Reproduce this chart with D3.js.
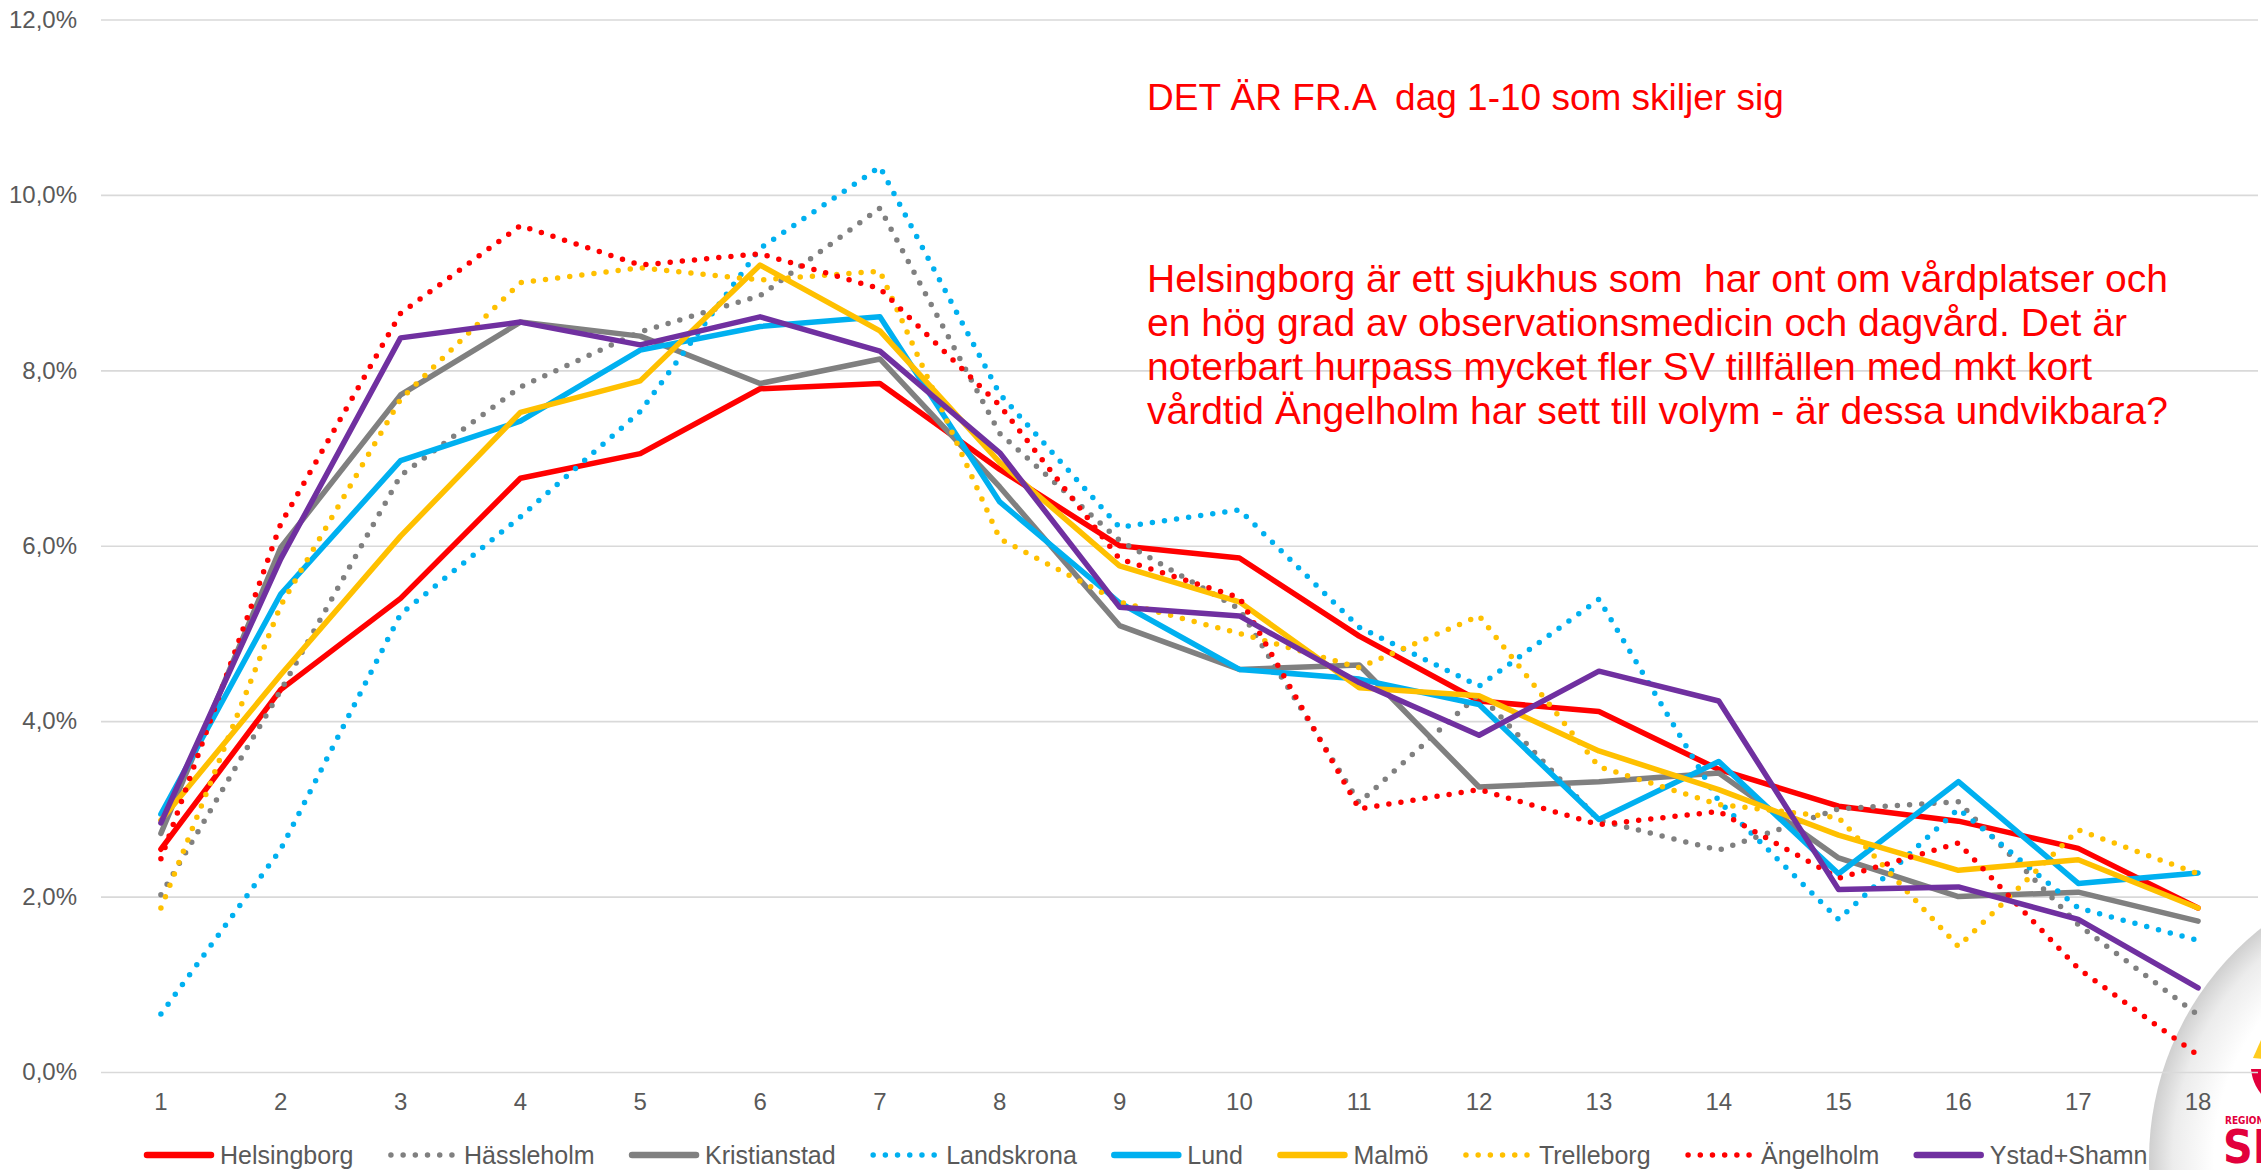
<!DOCTYPE html>
<html>
<head>
<meta charset="utf-8">
<script src="https://cdn.jsdelivr.net/npm/d3@7"></script>
<style>
  html, body { margin: 0; padding: 0; background: #fff; }
  svg { display: block; }
  text { font-family: "Liberation Sans", Arial, sans-serif; }
</style>
</head>
<body>
<svg id="chart" width="2261" height="1170"></svg>
<script>
// ---------- data ----------
const days = [1,2,3,4,5,6,7,8,9,10,11,12,13,14,15,16,17,18];
const yTickValues = [0, 2, 4, 6, 8, 10, 12];
const yTickLabels = ["0,0%", "2,0%", "4,0%", "6,0%", "8,0%", "10,0%", "12,0%"];

const seriesNames = ["Helsingborg", "Hässleholm", "Kristianstad", "Landskrona", "Lund", "Malmö", "Trelleborg", "Ängelholm", "Ystad+Shamn"];

const helsingborg = [2.54, 4.36, 5.40, 6.77, 7.05, 7.79, 7.85, 6.87, 6.00, 5.86, 4.97, 4.23, 4.11, 3.45, 3.03, 2.86, 2.55, 1.87];
const hassleholm  = [2.02, 4.35, 6.80, 7.81, 8.44, 8.85, 9.85, 7.28, 6.06, 5.28, 3.07, 4.31, 2.87, 2.53, 3.00, 3.08, 1.68, 0.65];
const kristianstad= [2.72, 5.98, 7.72, 8.55, 8.39, 7.85, 8.13, 6.67, 5.09, 4.59, 4.64, 3.25, 3.31, 3.41, 2.44, 2.00, 2.05, 1.72];
const landskrona  = [0.66, 2.54, 5.22, 6.33, 7.53, 9.39, 10.32, 7.73, 6.21, 6.41, 5.07, 4.40, 5.39, 3.09, 1.74, 3.00, 1.87, 1.50];
const lund        = [2.94, 5.45, 6.97, 7.42, 8.23, 8.50, 8.61, 6.50, 5.35, 4.59, 4.48, 4.19, 2.88, 3.54, 2.26, 3.31, 2.15, 2.27];
const malmo       = [2.87, 4.53, 6.11, 7.52, 7.88, 9.20, 8.45, 6.95, 5.77, 5.36, 4.38, 4.29, 3.66, 3.22, 2.70, 2.30, 2.42, 1.87];
const trelleborg  = [1.87, 5.32, 7.67, 9.00, 9.17, 9.03, 9.13, 6.08, 5.36, 5.00, 4.61, 5.20, 3.48, 3.05, 2.90, 1.43, 2.76, 2.26];
const angelholm   = [2.43, 6.25, 8.65, 9.65, 9.20, 9.33, 8.93, 7.60, 5.85, 5.41, 3.00, 3.22, 2.82, 2.97, 2.21, 2.61, 1.18, 0.19];
const ystad       = [2.84, 5.85, 8.37, 8.55, 8.29, 8.61, 8.22, 7.06, 5.30, 5.20, 4.44, 3.84, 4.57, 4.23, 2.08, 2.11, 1.74, 0.96];

const seriesValues = [helsingborg, hassleholm, kristianstad, landskrona, lund, malmo, trelleborg, angelholm, ystad];
const seriesColors = ["#FF0000", "#808080", "#808080", "#00B0F0", "#00B0F0", "#FFC000", "#FFC000", "#FF0000", "#7030A0"];
const seriesDotted = [false, true, false, true, false, false, true, true, false];

const headline = "DET ÄR FR.A  dag 1-10 som skiljer sig";
const commentLines = [
  "Helsingborg är ett sjukhus som  har ont om vårdplatser och",
  "en hög grad av observationsmedicin och dagvård. Det är",
  "noterbart hurpass mycket fler SV tillfällen med mkt kort",
  "vårdtid Ängelholm har sett till volym - är dessa undvikbara?"
];

// ---------- layout ----------
const W = 2261, H = 1170;
const plotLeft = 101, plotRight = 2258, plotTop = 19.5, plotBottom = 1072;

const svg = d3.select("#chart");
svg.append("rect").attr("width", W).attr("height", H).attr("fill", "#fff");

// Logo background (Region Skåne style badge, bottom-right)
const defs = svg.append("defs");
const rg = defs.append("radialGradient").attr("id", "badge").attr("cx", "50%").attr("cy", "50%").attr("r", "50%");
rg.append("stop").attr("offset", "0%").attr("stop-color", "#ffffff");
rg.append("stop").attr("offset", "78%").attr("stop-color", "#ffffff");
rg.append("stop").attr("offset", "92%").attr("stop-color", "#ececec");
rg.append("stop").attr("offset", "100%").attr("stop-color", "#cfcfcf");
defs.append("clipPath").attr("id", "logoclip").append("rect").attr("x", 2200).attr("y", 1000).attr("width", 61).attr("height", 170);
const logo = svg.append("g");
logo.append("circle").attr("cx", 2445).attr("cy", 1160).attr("r", 296).attr("fill", "url(#badge)");
const mark = logo.append("g").attr("clip-path", "url(#logoclip)");
mark.append("path").attr("d", "M2253,1058 L2261,1040 L2290,1030 L2300,1062 Z").attr("fill", "#FFCC1F");
mark.append("path").attr("d", "M2251,1069 L2300,1069 L2300,1110 A45,45 0 0 1 2251,1069 Z").attr("fill", "#E2003C");
mark.append("text").attr("x", 2225).attr("y", 1124).attr("font-size", 10).attr("font-weight", "bold")
  .attr("fill", "#E2003C").attr("style", "font-family:'Liberation Sans Narrow','DejaVu Sans Condensed',sans-serif").text("REGION");
mark.append("text").attr("x", 2223).attr("y", 1163).attr("font-size", 46).attr("font-weight", "bold")
  .attr("fill", "#E2003C").attr("style", "font-family:'Liberation Sans Narrow','DejaVu Sans Condensed',sans-serif").text("SK");

// ---------- scales ----------
const x = d3.scaleBand().domain(days).range([plotLeft, plotRight]).padding(0);
const cx = d => x(d) + x.bandwidth() / 2;
const y = d3.scaleLinear().domain([0, 12]).range([plotBottom, plotTop]);

// ---------- axes ----------
const yAxis = svg.append("g").attr("transform", `translate(${plotLeft},0)`)
  .call(d3.axisLeft(y).tickValues(yTickValues).tickSize(-(plotRight - plotLeft)).tickPadding(24)
    .tickFormat((d, i) => yTickLabels[i]));
yAxis.select(".domain").remove();
yAxis.selectAll(".tick line").attr("stroke", "#D9D9D9").attr("stroke-width", 1.6);
yAxis.selectAll(".tick text").attr("font-size", 24).attr("fill", "#595959")
  .style("font-family", "'Liberation Sans', Arial, sans-serif");

const xAxis = svg.append("g").attr("transform", `translate(0,${plotBottom})`)
  .call(d3.axisBottom(x).tickSize(0).tickPadding(0));
xAxis.select(".domain").remove();
xAxis.selectAll(".tick text").attr("y", 30).attr("dy", "0.35em").attr("font-size", 24).attr("fill", "#595959")
  .style("font-family", "'Liberation Sans', Arial, sans-serif");

// ---------- lines ----------
const line = d3.line().x((v, i) => cx(days[i])).y(v => y(v));
const linesG = svg.append("g");
seriesValues.forEach((vals, k) => {
  const p = linesG.append("path").datum(vals)
    .attr("d", line)
    .attr("fill", "none")
    .attr("stroke", seriesColors[k])
    .attr("stroke-linejoin", "round")
    .attr("stroke-width", 5.5)
    .attr("stroke-linecap", "round");
  if (seriesDotted[k]) p.attr("stroke-dasharray", "0 12.2");
});

// ---------- legend ----------
const legend = svg.append("g");
let lx = 144;
const ly = 1155;
seriesNames.forEach((name, k) => {
  const g = legend.append("g");
  const l = g.append("line").attr("x1", lx + 3).attr("x2", lx + 67).attr("y1", ly).attr("y2", ly)
    .attr("stroke", seriesColors[k]).attr("stroke-linecap", "round").attr("stroke-width", 6.5);
  if (seriesDotted[k]) l.attr("stroke-dasharray", "0 12.2").attr("stroke-width", 5.5);
  const t = g.append("text").attr("x", lx + 76).attr("y", ly).attr("dy", "0.35em")
    .attr("font-size", 25).attr("fill", "#595959").text(name);
  lx = lx + 76 + t.node().getComputedTextLength() + 34.5;
});

// ---------- annotations ----------
svg.append("text").attr("x", 1147).attr("y", 110).attr("font-size", 37).attr("fill", "#FF0000")
  .style("white-space", "pre").text(headline);
const para = svg.append("g");
commentLines.forEach((s, i) => {
  para.append("text").attr("x", 1147).attr("y", 291.5 + i * 44).attr("font-size", 39).attr("fill", "#FF0000")
    .style("white-space", "pre").text(s);
});
</script>
</body>
</html>
